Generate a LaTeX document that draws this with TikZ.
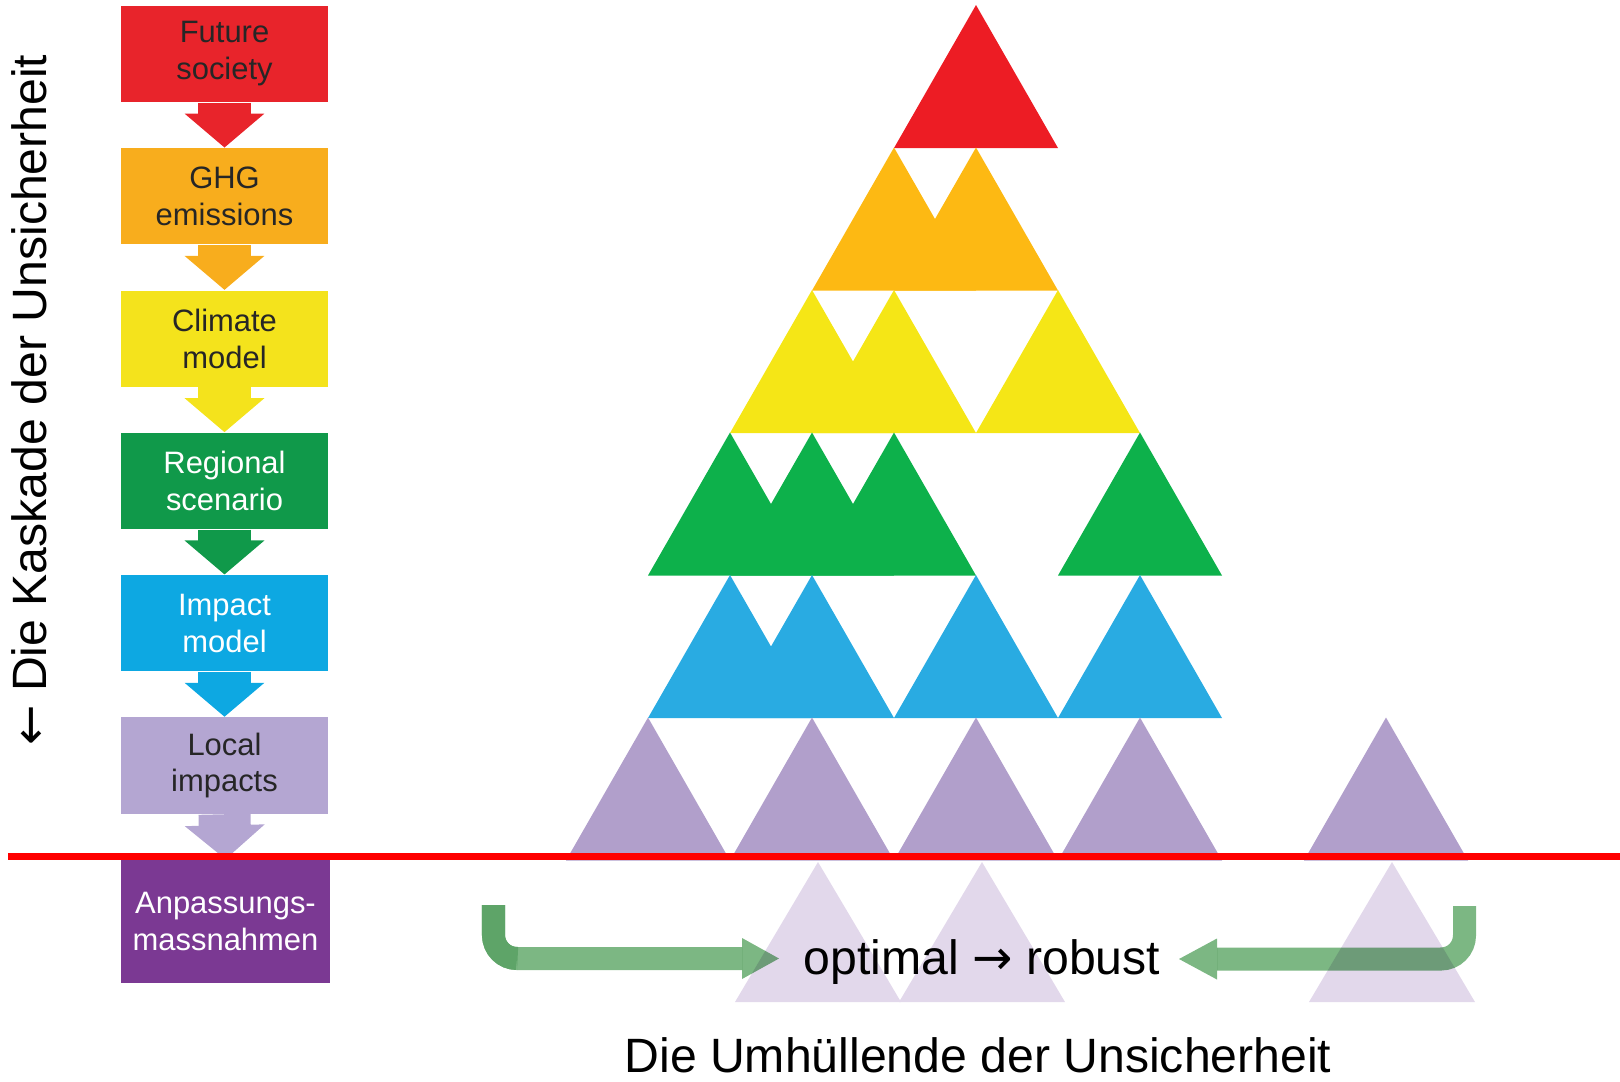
\documentclass[tikz,border=0pt]{standalone}
\usepackage{fontspec}
\setmainfont{Liberation Sans}
\newfontfamily\symfont{DejaVu Sans}
\usetikzlibrary{arrows.meta}
\definecolor{boxRed}{HTML}{E8242B}
\definecolor{boxOrange}{HTML}{F8AD1D}
\definecolor{boxYellow}{HTML}{F4E31C}
\definecolor{boxGreen}{HTML}{10994A}
\definecolor{boxBlue}{HTML}{0DA8E2}
\definecolor{boxLilac}{HTML}{B4A6D2}
\definecolor{boxPurple}{HTML}{7B3993}
\definecolor{triRed}{HTML}{ED1C24}
\definecolor{triOrange}{HTML}{FDB913}
\definecolor{triYellow}{HTML}{F5E616}
\definecolor{triGreen}{HTML}{0DB14B}
\definecolor{triBlue}{HTML}{29ABE2}
\definecolor{triLilac}{HTML}{B19FCB}
\definecolor{triFade}{HTML}{E2D8EB}
\definecolor{arrGreen}{HTML}{7CB783}
\definecolor{arrDark}{HTML}{5EA468}
\definecolor{txtDark}{HTML}{262626}
\tikzset{
  box/.style={minimum width=2.07cm, minimum height=0.96cm, inner sep=0pt,
    align=center, font=\fontsize{8.8}{10.5}\selectfont},
  flow/.style={line width=0.52cm, -{Triangle[width=0.78cm,length=0.34cm]}},
  gbar/.style={line width=0.23cm, draw=arrGreen, rounded corners=0.235cm},
  big/.style={font=\fontsize{13.7}{16}\selectfont, text=black, inner sep=0pt},
}
\newcommand{\tri}[3]{
  \fill[#1] ({976+82*(#2)},{5+142.5*(#3)}) -- ++(82,143) -- ++(-164,0) -- cycle;}

\begin{document}
\begin{tikzpicture}[x=0.01cm,y=-0.01cm]
	\useasboundingbox (0,0) rectangle (1620,1081);
	%CASCADE
	\node[box, fill=boxRed, text=txtDark] (fs) at (224.5,54) {Future\\society};
	\node[box, fill=boxOrange, text=txtDark] (ghg) at (224.5,196.3) {GHG\\emissions};
	\node[box, fill=boxYellow, text=txtDark] (cm) at (224.5,338.6) {Climate\\model};
	\node[box, fill=boxGreen, text=white] (rs) at (224.5,480.9) {Regional\\scenario};
	\node[box, fill=boxBlue, text=white] (im) at (224.5,623.2) {Impact\\model};
	\node[box, fill=boxLilac, text=txtDark] (li) at (224.5,765.5) {Local\\impacts};
	\node[box, fill=boxPurple, text=white, minimum width=2.09cm, minimum height=1.23cm] (anp) at (225.5,921.5) {Anpassungs-\\massnahmen};
	\draw[flow, boxRed] (fs.south) -- (ghg.north);
	\draw[flow, boxOrange] (ghg.south) -- (cm.north);
	\draw[flow, boxYellow] (cm.south) -- (rs.north);
	\draw[flow, boxGreen] (rs.south) -- (im.north);
	\draw[flow, boxBlue] (im.south) -- (li.north);
	\draw[flow, boxLilac] (li.south) -- (anp.north);
	%TRIANGLES
	\tri{triRed}{0}{0}
	\foreach \k in {-1,0} {\tri{triOrange}{\k}{1}}
	\foreach \k in {-2,-1,1} {\tri{triYellow}{\k}{2}}
	\foreach \k in {-3,-2,-1,2} {\tri{triGreen}{\k}{3}}
	\foreach \k in {-3,-2,0,2} {\tri{triBlue}{\k}{4}}
	\foreach \k in {-4,-2,0,2,5} {\tri{triLilac}{\k}{5}}
	\foreach \k in {-2,0,5}
		\fill[triFade] ({982+82*\k},862) -- ++(83,140) -- ++(-166,0) -- cycle;
	\draw[red, line width=0.07cm] (8,856) -- (1620,856);
	%TEXTS
	\node[big, rotate=90, anchor=base] (casc) at (47,400) {{\symfont ←} Die Kaskade der Unsicherheit};
	\node[big, anchor=base] (opt) at (982,974) {optimal {\symfont →} robust};
	\node[big, anchor=base] (env) at (978,1072) {Die Umhüllende der Unsicherheit};
	%ARROWS
	\coordinate (lbeg) at (493.5,905);
	\coordinate (lbend) at (517,958.5);
	\coordinate (lhead) at (742,958.5);
	\coordinate (lend) at (779,958.5);
	\coordinate (rbeg) at (1464.5,906);
	\coordinate (rhead) at (1217,959);
	\coordinate (rend) at (1179,959);
	\begin{scope}[blend mode=multiply]
		\draw[gbar] (lbeg) |- (lhead);
		\fill[arrGreen] ([yshift=-0.205cm]lhead) -- (lend) -- ([yshift=0.205cm]lhead) -- cycle;
		\draw[gbar] (rbeg) |- (rhead);
		\fill[arrGreen] ([yshift=-0.205cm]rhead) -- (rend) -- ([yshift=0.205cm]rhead) -- cycle;
	\end{scope}
	\draw[gbar, draw=arrDark] (lbeg) |- (lbend);
\end{tikzpicture}
\end{document}
